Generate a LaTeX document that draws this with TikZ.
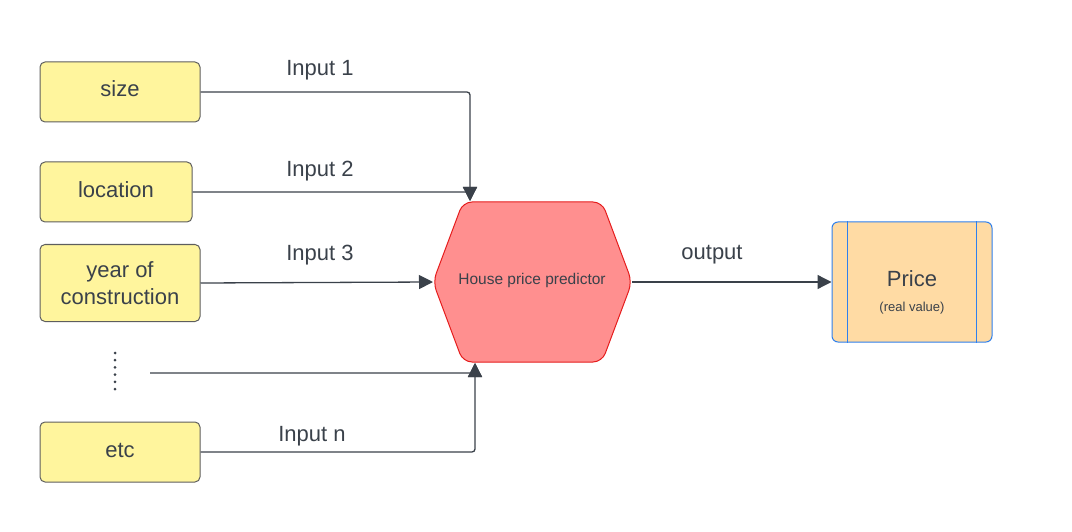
\documentclass[tikz,border=0pt]{standalone}
\usepackage{fontspec}
\setmainfont{Liberation Sans}
\usepackage{xcolor}
\usetikzlibrary{arrows.meta, positioning, calc}
\definecolor{inkgray}{HTML}{3A414A}
\definecolor{boxgray}{HTML}{5E5E5E}
\definecolor{boxyellow}{HTML}{FFF59D}
\definecolor{hexred}{HTML}{E51C1C}
\definecolor{hexfill}{HTML}{FF8F8F}
\definecolor{priceblue}{HTML}{2F80ED}
\definecolor{pricefill}{HTML}{FFDBA4}

\begin{document}
\begin{tikzpicture}[
        x=1pt, y=-1pt,
        feature/.style={draw=boxgray, fill=boxyellow, rounded corners=5pt, line width=1pt,
            minimum width=160pt, minimum height=60pt, align=center, text=inkgray,
            font=\fontsize{22}{27}\selectfont},
        oneline/.style={text height=16pt, text depth=6pt},
        result/.style={draw=priceblue, fill=pricefill, rounded corners=6pt, line width=1pt,
            minimum width=160pt, minimum height=120pt},
        link/.style={draw=inkgray, line width=1.3pt, rounded corners=3pt},
        tip/.style={-{Triangle[length=14pt,width=14pt]}},
        lbl/.style={text=inkgray, font=\fontsize{22}{26}\selectfont}
    ]
        \useasboundingbox (0,0) rectangle (1072,532);

        % inputs
        \node[feature, oneline] (size) at (120,92) {size};
        \node[feature, oneline, minimum width=152pt] (location) at (116,192) {location};
        \node[feature, minimum height=77pt] (year) at (120,283) {year of\\construction};
        \node[feature, oneline] (etc) at (120,452) {etc};
        \foreach \i in {0,...,5}
            \fill[inkgray] (115,353+7.2*\i) circle (1.5);
        \coordinate (more) at (150,373);

        % predictor
        \draw[hexred, fill=hexfill, line width=1pt, rounded corners=9pt]
            (433,282) -- (463,202) -- (602,202) -- (632,282) -- (602,362) -- (463,362) -- cycle;
        \node[text=inkgray, font=\fontsize{15.5}{18}\selectfont] (pred) at (532,280) {House price predictor};
        \coordinate (predtop) at (470,201);
        \coordinate (predbot) at (475,363);
        \coordinate (predwest) at (433,282);
        \coordinate (predeast) at (632,282);

        % output
        \node[result] (price) at (912,282) {};
        \draw[priceblue, line width=1pt] ($(price.north west)+(16,0)$) -- ($(price.south west)+(16,0)$);
        \draw[priceblue, line width=1pt] ($(price.north east)+(-16,0)$) -- ($(price.south east)+(-16,0)$);
        \node[lbl] (pricename) at (912,279) {Price};
        \node[text=inkgray, font=\fontsize{13}{16}\selectfont] (priceinfo) at (912,308) {(real value)};

        % connectors
        \draw[link, tip] (size.east) -- (size.east -| predtop) -- (predtop);
        \draw[link, tip] (location.east) -- (location.east -| predtop) -- (predtop);
        \draw[link, tip] (year.east) -- (predwest);
        \draw[link, tip] (more) -- (more -| predbot) -- (predbot);
        \draw[link, tip] (etc.east) -- (etc.east -| predbot) -- (predbot);
        \draw[link, tip] (predeast) -- (price.west);

        \node[lbl] (in1) at (320,70) {Input 1};
        \node[lbl] (in2) at (320,171) {Input 2};
        \node[lbl] (in3) at (320,255) {Input 3};
        \node[lbl] (inn) at (312,436) {Input n};
        \node[lbl] (out) at (712,255) {output};
    \end{tikzpicture}
\end{document}
